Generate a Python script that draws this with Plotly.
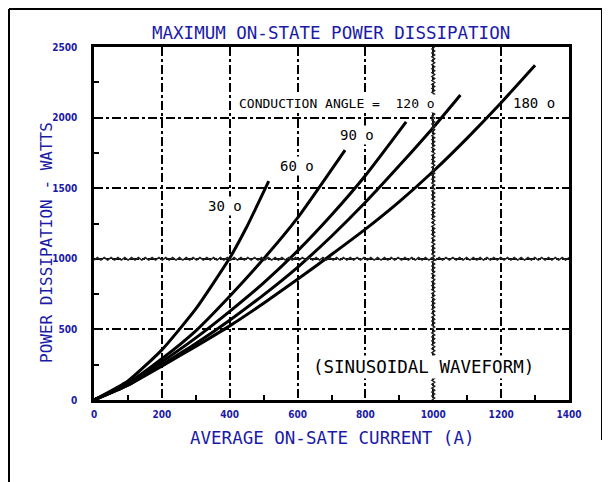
import numpy as np
import plotly.graph_objects as go

# ---- data ----
cur_30 = [0, 100, 200, 300, 400, 450, 515]
pw_30 = [0, 135, 355, 645, 1005, 1225, 1550]

cur_60 = [0, 100, 200, 300, 400, 500, 600, 740]
pw_60 = [0, 120, 292, 490, 735, 1000, 1290, 1770]

cur_90 = [0, 100, 200, 300, 400, 500, 600, 700, 800, 920]
pw_90 = [0, 110, 270, 440, 628, 830, 1056, 1310, 1590, 1970]

cur_120 = [0, 100, 200, 300, 400, 500, 600, 700, 800, 900, 1000, 1080]
pw_120 = [0, 105, 250, 400, 565, 745, 940, 1160, 1400, 1660, 1930, 2160]

cur_180 = [0, 100, 200, 300, 400, 500, 600, 700, 800, 900, 1000, 1100, 1200, 1300]
pw_180 = [0, 105, 240, 380, 525, 685, 855, 1030, 1210, 1405, 1620, 1855, 2105, 2370]

x_ticks = [0, 200, 400, 600, 800, 1000, 1200, 1400]
x_ticklabels = ["0", "200", "400", "600", "800", "1000", "1200", "1400"]
y_ticks = [0, 500, 1000, 1500, 2000, 2500]
y_ticklabels = ["0", "500", "1000", "1500", "2000", "2500"]

series = [
    ("30", cur_30, pw_30),
    ("60", cur_60, pw_60),
    ("90", cur_90, pw_90),
    ("120", cur_120, pw_120),
    ("180", cur_180, pw_180),
]

BLUE = "#1a1aa8"
MONO = "DejaVu Sans Mono"
NARROW = "DejaVu Sans Condensed"

# page offset (browser body margin) and plot-area geometry in page pixels
OFF = 8
PL, PR, PT, PB = 94, 569, 47, 400
W, H = 610 - OFF, 482 - OFF
PW, PH = PR - PL, PB - PT


def px(p):
    return (p - PL) / PW


def py(p):
    return (PB - p) / PH


fig = go.Figure()
for name, xs, ys in series:
    fig.add_trace(go.Scatter(x=xs, y=ys, mode="lines", name=name,
                             line=dict(color="black", width=3, shape="spline", smoothing=0.5),
                             showlegend=False, hoverinfo="skip"))

# wavy gridlines at 1000 (decoration)
t = np.linspace(0, 2500, 180)
wig = np.where(np.arange(t.size) % 2 == 0, -4.0, 4.0)
fig.add_trace(go.Scatter(x=1000 + wig, y=t, mode="lines",
                         line=dict(color="#222", width=1.5), showlegend=False, hoverinfo="skip"))
t2 = np.linspace(0, 1400, 140)
wig2 = np.where(np.arange(t2.size) % 2 == 0, -9.0, 9.0)
fig.add_trace(go.Scatter(x=t2, y=1000 + wig2, mode="lines",
                         line=dict(color="#222", width=1.5), showlegend=False, hoverinfo="skip"))

grid_common = dict(showgrid=True, gridcolor="black", gridwidth=2, griddash="dashdot",
                   showline=True, linecolor="black", linewidth=2.5, mirror=True,
                   zeroline=False, ticks="", showticklabels=True,
                   tickfont=dict(family=NARROW, size=10, color=BLUE, weight="bold"))

fig.update_xaxes(range=[0, 1400], tickvals=x_ticks, ticktext=x_ticklabels,
                 minor=dict(tickvals=[100, 300, 500, 700, 900, 1100, 1300], ticks="inside",
                            ticklen=5, tickwidth=2, tickcolor="black", showgrid=False),
                 ticklabelstandoff=3,
                 **grid_common)
fig.update_yaxes(range=[0, 2500], tickvals=y_ticks, ticktext=y_ticklabels,
                 minor=dict(tickvals=[250, 750, 1250, 1750, 2250], ticks="inside",
                            ticklen=5, tickwidth=2, tickcolor="black", showgrid=False),
                 ticklabelstandoff=12,
                 **grid_common)

ann = []
ann.append(dict(text="MAXIMUM ON-STATE POWER DISSIPATION", xref="paper", yref="paper",
                x=px(331), y=py(33), showarrow=False,
                font=dict(family=MONO, size=17.5, color=BLUE), xanchor="center", yanchor="middle"))
ann.append(dict(text="AVERAGE ON-SATE CURRENT (A)", xref="paper", yref="paper",
                x=px(332), y=py(438), showarrow=False,
                font=dict(family=MONO, size=17.5, color=BLUE), xanchor="center", yanchor="middle"))
ann.append(dict(text="POWER DISSIPATION - WATTS", xref="paper", yref="paper",
                x=px(46), y=py(243), showarrow=False, textangle=-90,
                font=dict(family=MONO, size=16, color=BLUE), xanchor="center", yanchor="middle"))

labels = [
    ("CONDUCTION ANGLE =  120 o", 422, 2099, 13),
    ("180 o", 1230, 2106, 14),
    ("90 o", 718, 1879, 14),
    ("60 o", 541, 1660, 14),
    ("30 o", 331, 1376, 14),
    ("(SINUSOIDAL WAVEFORM)", 640, 234, 17.5),
]
for txt, lx, ly, fs in labels:
    ann.append(dict(text=txt, x=lx, y=ly, xref="x", yref="y", showarrow=False,
                    xanchor="left", yanchor="middle", bgcolor="white",
                    font=dict(family=MONO, size=fs, color="black")))

shapes = [
    dict(type="line", xref="paper", yref="paper", x0=px(9), x1=px(9),
         y0=py(9), y1=py(482), line=dict(color="black", width=2)),
    dict(type="line", xref="paper", yref="paper", x0=px(9), x1=px(602),
         y0=py(9), y1=py(9), line=dict(color="black", width=2)),
    dict(type="line", xref="paper", yref="paper", x0=px(602), x1=px(602),
         y0=py(9), y1=py(440), line=dict(color="black", width=2)),
]

fig.update_layout(width=W, height=H,
                  margin=dict(l=PL - OFF, r=W + OFF - PR, t=PT - OFF, b=H + OFF - PB),
                  plot_bgcolor="white", paper_bgcolor="white",
                  annotations=ann, shapes=shapes, showlegend=False)

fig.write_html("out.html")
